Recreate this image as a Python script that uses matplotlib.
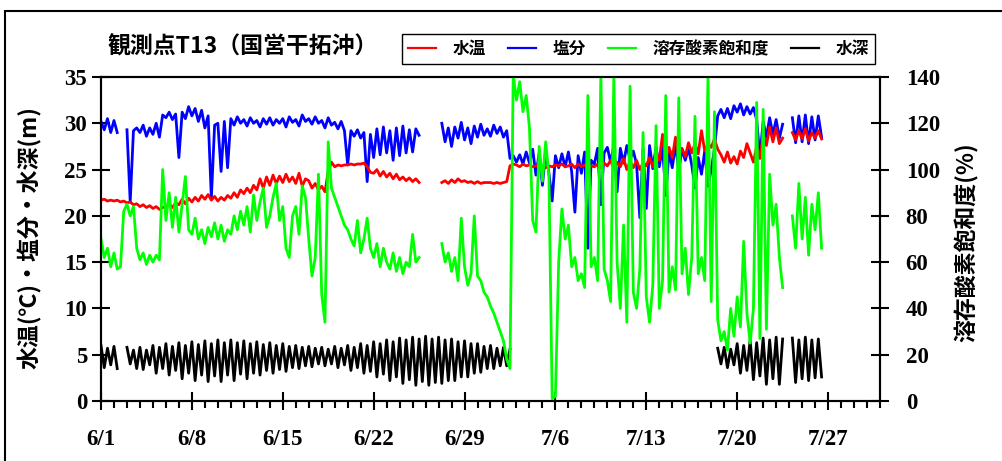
import numpy as np
import matplotlib
matplotlib.use('Agg')
import matplotlib.pyplot as plt
from matplotlib.ticker import MultipleLocator, FixedLocator
from matplotlib.patches import Rectangle

NA = float('nan')
STEP = 0.25  # days between samples (6 h), day 0 = 6/1

date_ticks = [0, 7, 14, 21, 28, 35, 42, 49, 56]
date_labels = ['6/1', '6/8', '6/15', '6/22', '6/29', '7/6', '7/13', '7/20', '7/27']
left_ticks = [0, 5, 10, 15, 20, 25, 30, 35]
right_ticks = [0, 20, 40, 60, 80, 100, 120, 140]

# 水温 (℃)
water_temp = [
    21.7, 21.8, 21.6, 21.7,  21.6, 21.7, 21.5, 21.6,  21.4, 21.5, 21.2, 21.3,
    21.0, 21.2, 20.9, 21.1,  20.8, 21.0, 20.7, 20.9,  21.0, 21.3, 20.9, 21.4,
    21.2, 21.8, 21.3, 21.9,  21.5, 22.0, 21.6, 22.2,  21.8, 22.3, 21.7, 22.1,
    21.6, 22.0, 21.7, 22.2,  21.9, 22.5, 22.0, 22.8,  22.4, 23.0, 22.5, 23.3,
    22.8, 24.0, 23.0, 24.2,  23.3, 24.4, 23.5, 24.3,  23.6, 24.5, 23.7, 24.2,
    23.5, 24.6, 23.2, 24.0,  23.8, 23.0, 23.5, 22.8,  23.2, 22.6, 24.8, 25.8,
    25.3, 25.5, 25.4, 25.5,  25.5, 25.6, 25.5, 25.6,  25.6, 25.7, 25.3, 24.7,
    24.6, 25.0, 24.3, 24.8,  24.2, 24.6, 24.0, 24.5,  23.9, 24.2, 23.8, 24.1,
    23.7, 24.0, 23.6, NA,    NA, NA, NA, NA,          NA, 23.6, 23.8, 23.5,
    23.9, 23.6, 24.0, 23.7,  23.8, 23.6, 23.7, 23.5,  23.7, 23.5, 23.6, 23.6,
    23.6, 23.5, 23.6, 23.5,  23.6, 23.7, 25.4, 25.6,  25.5, 25.3, 25.6, 25.4,
    25.5, 25.3, 25.4, 25.5,  25.3, 25.2, 25.4, 25.3,  25.5, 25.4, 25.6, 25.3,
    25.4, 25.6, 25.2, 25.6,  25.3, 25.5, 25.2, 25.4,  25.3, 25.6, 25.2, 25.7,
    25.4, 26.0, 25.1, 25.8,  25.3, 26.2, 25.0, 25.9,  25.2, 26.0, 25.0, 25.7,
    25.4, 26.3, 25.3, 26.8,  26.0, 28.8, 26.2, 27.4,  26.3, 28.5, 26.5, 27.3,
    26.4, 27.9, 26.8, 27.8,  26.7, 29.2, 27.0, 27.8,  27.4, 28.3, 27.2, 26.6,
    25.8, 26.9, 25.7, 26.4,  25.6, 27.0, 26.3, 27.8,  26.8, 25.8, 27.5, 26.2,
    28.8, 27.6, 29.6, 28.0,  29.5, 27.8, 28.4, NA,    NA, 29.0, 28.2, 29.2,
    28.3, 29.4, 28.1, 29.0,  28.4, 29.2, 28.3,
]

# 塩分
salinity = [
    30.2, 29.3, 30.5, 29.0,  30.3, 29.0, NA, NA,      29.3, 21.5, 29.2, 29.5,
    29.0, 29.8, 28.6, 29.5,  28.8, 30.0, 28.5, 30.9,  30.6, 31.2, 30.4, 31.0,
    26.3, 31.2, 30.5, 31.8,  30.8, 31.6, 30.2, 31.4,  29.5, 30.8, 21.9, 29.8,
    30.0, 24.8, 30.2, 25.2,  30.5, 29.8, 30.7, 30.0,  30.4, 29.7, 30.6, 30.0,
    30.3, 29.6, 30.5, 29.9,  30.6, 29.8, 30.4, 30.0,  30.5, 29.6, 30.7, 30.1,
    30.4, 29.7, 30.9, 30.2,  30.5, 29.9, 30.7, 30.0,  30.3, 29.5, 30.6, 29.8,
    30.1, 29.4, 30.2, 29.2,  25.5, 29.2, 28.6, 29.3,  28.4, 29.0, 23.7, 28.8,
    26.3, 29.4, 26.6, 29.6,  26.8, 29.2, 26.0, 29.5,  26.5, 29.7, 26.8, 29.3,
    26.9, 29.4, 28.7, NA,    NA, NA, NA, NA,          NA, 30.0, 28.0, 29.5,
    27.5, 29.6, 28.4, 30.1,  28.2, 29.5, 27.8, 29.7,  28.5, 29.9, 28.7, 29.4,
    28.6, 29.8, 28.9, 29.6,  28.5, 29.2, 26.2, 26.5,  25.8, 26.6, 25.6, 26.9,
    25.7, 27.2, 24.4, 26.8,  23.3, 27.0, 24.6, 21.6,  26.5, 25.2, 26.7, 25.3,
    26.9, 24.8, 20.4, 26.5,  24.6, 26.9, 16.5, 26.0,  25.6, 27.3, 21.2, 26.8,
    27.4, 25.8, 27.6, 22.6,  27.3, 25.7, 27.6, 26.1,  27.0, 25.6, 19.8, 27.2,
    20.8, 27.6, 25.1, 27.4,  25.3, 27.5, 22.2, 27.0,  25.2, 27.7, 24.9, 27.2,
    26.0, 27.3, 25.5, 23.0,  26.3, 24.5, 27.0, 23.2,  25.0, 27.2, 30.8, 31.5,
    30.6, 31.6, 30.5, 31.9,  31.2, 32.1, 30.9, 31.8,  31.0, 31.7, 30.4, 26.3,
    30.2, 28.5, 30.6, 28.8,  30.4, 28.4, 29.9, NA,    NA, 30.6, 27.9, 30.8,
    28.0, 30.9, 27.8, 30.7,  28.2, 30.8, 28.5,
]

# 溶存酸素飽和度 (%)
do_saturation = [
    70, 62, 66, 58,   64, 57, 58, 82,   85, 80, 84, 66,   61, 64, 59, 63,
    60, 63, 61, 100,  78, 90, 75, 88,   73, 85, 97, 74,   72, 79, 70, 74,
    68, 75, 71, 77,   70, 76, 69, 74,   72, 80, 74, 82,   76, 84, 73, 89,
    78, 86, 92, 75,   80, 88, 94, 78,   84, 66, 62, 80,   84, 72, 93, 88,
    70, 54, 62, 98,   46, 34, 112, 92,  88, 84, 80, 76,   74, 70, 67, 78,
    64, 70, 79, 66,   62, 68, 58, 66,   60, 57, 64, 56,   62, 55, 60, 58,
    72, 60, 62, NA,   NA, NA, NA, NA,   NA, 68, 60, 64,   56, 62, 52, 79,
    58, 50, 55, 80,   54, 52, 47, 45,   41, 38, 34, 30,   26, 18, 14, 141,
    130, 138, 125, 132,  118, 78, 73, 110,  95, 112, 97, 1,  2, 60, 83, 70,
    76, 58, 62, 52,   55, 49, 132, 58,  62, 52, 141, 57,  52, 43, 141, 60,
    40, 76, 34, 136,  47, 40, 57, 116,  45, 34, 50, 119,  40, 52, 132, 47,
    58, 48, 131, 55,  66, 46, 62, 123,  55, 62, 52, 140,  43, 125, 35, 26,
    30, 22, 40, 28,   45, 32, 69, 38,   25, 40, 129, 27,  126, 31, 98, 76,
    85, 62, 49, NA,   NA, 80, 66, 94,   70, 88, 63, 85,   74, 90, 66,
]

# 水深 (m)
depth = [
    6.0, 3.6, 5.7, 3.9,  5.9, 3.5, NA, NA,    5.8, 4.0, 5.5, 3.5,  5.8, 3.4, 5.5, 3.9,
    6.0, 3.0, 5.8, 3.5,  6.2, 2.8, 5.9, 3.3,  6.3, 2.4, 6.0, 3.0,  6.4, 2.2, 6.1, 2.8,
    6.5, 2.1, 6.2, 2.7,  6.6, 2.1, 6.3, 2.8,  6.6, 2.2, 6.3, 2.9,  6.5, 2.4, 6.2, 3.0,
    6.4, 2.8, 6.1, 3.3,  6.3, 3.0, 6.0, 3.4,  6.2, 3.2, 5.9, 3.6,  6.0, 3.5, 5.8, 3.8,
    5.9, 3.7, 5.7, 4.0,  5.8, 3.8, 5.6, 4.0,  5.9, 3.6, 5.7, 3.9,  6.0, 3.3, 5.8, 3.6,
    6.2, 3.0, 6.0, 3.2,  6.4, 2.6, 6.2, 2.9,  6.6, 2.2, 6.4, 2.6,  6.8, 1.9, 6.6, 2.3,
    6.9, 1.7, 6.7, 2.1,  7.0, 1.7, 6.7, 2.0,  6.9, 1.9, 6.6, 2.2,  6.7, 2.2, 6.4, 2.6,
    6.5, 2.6, 6.2, 3.0,  6.2, 3.1, 5.9, 3.5,  6.0, 3.5, 5.7, 3.8,  5.8, 3.8, 5.6, NA,
] + [NA] * 60 + [
    NA, NA, 5.7, 4.0,    5.8, 3.6, 5.6, 3.9,  6.2, 3.0, 6.0, 3.3,  6.6, 2.3, 6.3, 2.7,
    6.8, 1.8, 6.6, 2.4,  6.9, 1.8, 6.7, NA,   NA, 6.8, 2.0, 6.6,   2.4, 6.9, 2.2, 6.6,
    2.5, 6.7, 2.6,
]

assert len(water_temp) == len(salinity) == len(do_saturation) == len(depth)
t = np.arange(len(depth)) * STEP

JP = 'Noto Sans CJK JP'
NUM = 'Liberation Serif'

fig = plt.figure(figsize=(10.03, 4.61), dpi=100)
ax = fig.add_axes([101 / 1003, 1 - 401 / 461, 779 / 1003, 324 / 461])
ax2 = ax.twinx()

lw = 2.0
l_sal, = ax.plot(t, salinity, color='#0000ff', lw=lw, label='塩分')
l_tmp, = ax.plot(t, water_temp, color='#ff0000', lw=lw, label='水温')
l_dep, = ax.plot(t, depth, color='black', lw=lw, label='水深')
l_do, = ax2.plot(t, do_saturation, color='#00ff00', lw=lw, label='溶存酸素飽和度')

ax.set_xlim(0, 60)
ax.set_ylim(0, 35)
ax2.set_ylim(0, 140)

ax.xaxis.set_major_locator(FixedLocator(date_ticks))
ax.set_xticklabels(date_labels)
ax.xaxis.set_minor_locator(MultipleLocator(1))
ax.yaxis.set_major_locator(FixedLocator(left_ticks))
ax2.yaxis.set_major_locator(FixedLocator(right_ticks))

for a in (ax, ax2):
    for s in a.spines.values():
        s.set_linewidth(1.5)

ax.tick_params(axis='x', which='major', direction='inout', length=13, width=1.5, pad=14)
ax.tick_params(axis='x', which='minor', direction='out', length=5, width=1.5)
ax.tick_params(axis='y', which='major', direction='inout', length=13, width=1.5, pad=3.5)
ax2.tick_params(axis='y', which='major', direction='inout', length=13, width=1.5, pad=12)

for lab in ax.get_xticklabels() + ax.get_yticklabels() + ax2.get_yticklabels():
    lab.set_fontfamily(NUM)
    lab.set_fontweight('bold')
    lab.set_fontsize(16.5)

ax.set_ylabel('水温(℃)・塩分・水深(m)', fontfamily=[JP, 'DejaVu Sans'],
              fontweight='bold', fontsize=16.5)
ax.yaxis.set_label_coords(-0.0757, 0.505)
ax2.set_ylabel('溶存酸素飽和度(%)', fontfamily=[JP, 'DejaVu Sans'],
               fontweight='bold', fontsize=16.5, rotation=90)
ax2.yaxis.set_label_coords(1.096, 0.49)

fig.text(108 / 1003, 1 - 47 / 461, '観測点T13（国営干拓沖）', fontfamily=[JP, 'DejaVu Sans'],
         fontweight='bold', fontsize=16.5, ha='left', va='center')

leg = fig.legend(handles=[l_tmp, l_sal, l_do, l_dep], loc='center',
                 bbox_to_anchor=((405 + 872) / 2 / 1003, 1 - 49 / 461),
                 ncol=4, frameon=True, fancybox=False, framealpha=1,
                 handlelength=1.7, handletextpad=1.0, columnspacing=1.3,
                 borderpad=0.35, prop={'family': JP, 'weight': 'bold', 'size': 12})
leg.get_frame().set_edgecolor('black')
leg.get_frame().set_linewidth(1.0)
for h in leg.get_lines():
    h.set_linewidth(1.6)

frame_top = 1 - 11 / 461
fig.patches.append(Rectangle((5 / 1003, -0.2), 1.5, frame_top + 0.2,
                             transform=fig.transFigure, fill=False,
                             edgecolor='black', lw=1.5, clip_on=False))

fig.savefig('out.png', dpi=100)
